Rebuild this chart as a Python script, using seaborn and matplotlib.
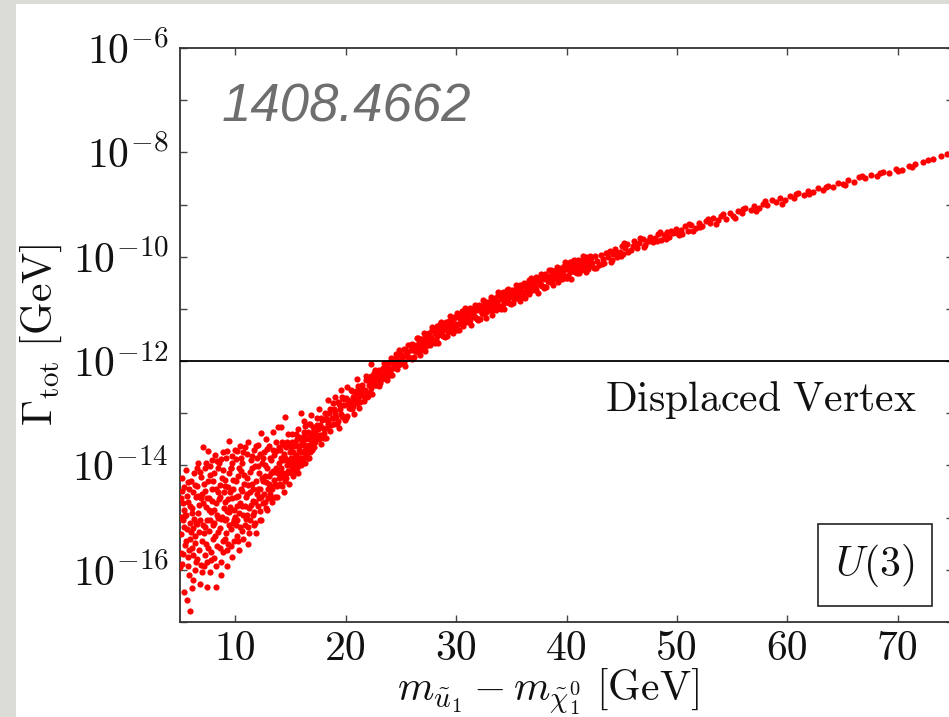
import numpy as np
import pandas as pd
import matplotlib
matplotlib.use("Agg")
import matplotlib.pyplot as plt
import seaborn as sns
from matplotlib.patches import Rectangle
from matplotlib.ticker import FixedLocator, NullFormatter, FixedFormatter

# ---------------- data ----------------
# mass splitting m_u1 - m_chi1 [GeV] and log10(Gamma_tot / GeV)
# region A: broad scatter at small splittings
x_low = [
    5.05, 5.10, 5.15, 5.22, 5.28, 5.33, 5.38, 5.45, 5.12, 5.40, 5.08,
    5.55, 5.60, 5.66, 5.70, 5.75, 5.82, 5.88, 5.95, 5.58, 5.90, 5.78,
    6.02, 6.08, 6.12, 6.18, 6.25, 6.30, 6.36, 6.42, 6.48, 6.15, 6.40,
    6.52, 6.58, 6.63, 6.70, 6.75, 6.82, 6.88, 6.95, 6.60, 6.90,
    7.03, 7.10, 7.15, 7.22, 7.28, 7.33, 7.40, 7.45, 7.18, 7.38,
    7.55, 7.60, 7.66, 7.72, 7.78, 7.85, 7.92, 7.98, 7.68, 7.88,
    8.02, 8.08, 8.15, 8.22, 8.30, 8.35, 8.42, 8.48, 8.12, 8.40,
    8.55, 8.60, 8.66, 8.72, 8.80, 8.86, 8.92, 8.98, 8.70, 8.90,
    9.03, 9.10, 9.15, 9.22, 9.30, 9.35, 9.42, 9.48, 9.18, 9.40,
    9.55, 9.60, 9.68, 9.75, 9.80, 9.86, 9.93, 9.98, 9.65, 9.90,
    10.03, 10.10, 10.15, 10.22, 10.30, 10.35, 10.42, 10.48, 10.20,
    10.55, 10.60, 10.68, 10.75, 10.82, 10.88, 10.95, 10.65,
    11.03, 11.10, 11.18, 11.25, 11.32, 11.40, 11.45, 11.15,
    11.55, 11.62, 11.70, 11.78, 11.85, 11.92, 11.98, 11.68,
    12.03, 12.10, 12.18, 12.25, 12.30, 12.38, 12.45, 12.20,
    12.55, 12.62, 12.70, 12.78, 12.85, 12.92, 12.98, 12.66,
    13.03, 13.10, 13.18, 13.25, 13.32, 13.40, 13.45, 13.15,
    13.55, 13.62, 13.70, 13.78, 13.85, 13.92, 13.98, 13.66,
    14.03, 14.10, 14.18, 14.25, 14.32, 14.40, 14.45, 14.15, 14.50,
    14.55, 14.62, 14.70, 14.78, 14.85, 14.92, 14.98, 14.68,
    15.03, 15.10, 15.18, 15.25, 15.32, 15.40, 15.45, 15.20,
    15.55, 15.62, 15.70, 15.78, 15.85, 15.92, 15.98, 15.68,
    16.03, 16.10, 16.18, 16.25, 16.32, 16.40, 16.45, 16.20,
    16.55, 16.62, 16.70, 16.78, 16.85, 16.92, 16.98, 16.75,
]
lg_low = [
    -14.62, -15.31, -15.88, -14.25, -15.05, -16.42, -14.85, -15.52, -15.68, -14.41, -14.98,
    -14.08, -15.22, -16.57, -14.70, -15.75, -14.45, -15.40, -16.79, -14.95, -15.10, -16.10,
    -14.30, -15.58, -14.82, -16.20, -15.02, -14.15, -15.35, -14.60, -15.85, -15.20, -16.00,
    -14.40, -15.12, -13.95, -15.62, -14.75, -16.28, -14.22, -15.45, -14.92, -15.90,
    -14.55, -13.65, -15.30, -14.05, -15.72, -14.80, -16.33, -15.05, -14.35, -15.50,
    -13.72, -14.62, -15.25, -14.18, -15.82, -14.90, -13.90, -15.40, -16.05, -14.45,
    -14.30, -15.10, -13.80, -14.72, -16.33, -15.55, -14.05, -15.00, -15.78, -14.50,
    -13.95, -15.20, -14.60, -15.85, -14.25, -13.75, -15.45, -14.82, -16.10, -14.08,
    -14.40, -15.05, -13.85, -15.62, -15.93, -14.65, -14.15, -13.53, -15.30, -14.90,
    -14.50, -15.22, -13.95, -15.75, -14.28, -14.85, -15.45, -13.70, -14.05, -15.05,
    -14.60, -13.88, -15.35, -14.20, -15.62, -14.92, -13.62, -14.45, -15.05,
    -14.10, -14.78, -15.40, -13.75, -14.35, -15.15, -14.60, -13.95,
    -14.25, -14.95, -13.55, -15.30, -14.50, -13.90, -14.75, -15.50,
    -14.05, -14.68, -13.70, -15.10, -14.30, -15.30, -13.85, -14.90,
    -14.45, -13.60, -14.15, -14.88, -13.38, -14.60, -13.95, -15.05,
    -14.30, -13.75, -14.70, -13.50, -14.05, -14.86, -14.45, -14.00,
    -13.62, -14.20, -14.55, -13.90, -14.70, -13.35, -14.10, -14.40,
    -13.80, -14.35, -14.05, -14.60, -13.26, -13.95, -14.25, -13.55,
    -13.70, -14.15, -13.27, -14.40, -13.90, -14.50, -13.60, -14.05, -13.07,
    -13.85, -14.25, -13.55, -14.10, -14.35, -13.75, -13.95, -14.00,
    -13.65, -14.05, -13.40, -14.20, -13.85, -13.55, -14.10, -13.75,
    -13.95, -13.50, -14.15, -13.70, -13.85, -13.00, -13.60, -13.30,
    -13.75, -13.45, -13.95, -13.60, -13.25, -13.80, -13.50, -13.15,
    -13.65, -13.35, -13.85, -13.50, -13.03, -13.70, -13.40, -13.20,
]
# region A, second set of points read from the same area
x_low_b = [
    5.02, 5.18, 5.25, 5.31, 5.36, 5.47, 5.52, 5.63, 5.68, 5.73, 5.85, 5.92, 5.98,
    6.05, 6.10, 6.20, 6.22, 6.33, 6.38, 6.45, 6.50, 6.55, 6.66, 6.72, 6.78, 6.85, 6.92, 6.98,
    7.05, 7.12, 7.20, 7.25, 7.30, 7.36, 7.42, 7.48, 7.52, 7.58, 7.63, 7.70, 7.75, 7.82, 7.90, 7.95,
    8.05, 8.10, 8.18, 8.25, 8.28, 8.33, 8.38, 8.45, 8.52, 8.58, 8.63, 8.68, 8.75, 8.82, 8.88, 8.95,
    9.05, 9.08, 9.12, 9.20, 9.25, 9.28, 9.33, 9.38, 9.45, 9.50, 9.58, 9.62, 9.70, 9.72, 9.78, 9.83, 9.95,
    10.05, 10.08, 10.12, 10.18, 10.25, 10.28, 10.33, 10.40, 10.45, 10.52, 10.58, 10.62, 10.72, 10.78, 10.85, 10.92, 10.98,
    11.05, 11.08, 11.12, 11.20, 11.28, 11.35, 11.38, 11.48, 11.52, 11.58, 11.65, 11.72, 11.75, 11.82, 11.88, 11.95,
    12.05, 12.08, 12.15, 12.22, 12.28, 12.35, 12.42, 12.48, 12.52, 12.58, 12.68, 12.75, 12.82, 12.88, 12.95,
    13.05, 13.12, 13.20, 13.28, 13.35, 13.42, 13.50, 13.58, 13.64, 13.72, 13.80, 13.88, 13.95,
    14.05, 14.12, 14.22, 14.28, 14.35, 14.42, 14.48, 14.58, 14.65, 14.72, 14.80, 14.88, 14.95,
    15.05, 15.12, 15.15, 15.22, 15.30, 15.38, 15.48, 15.52, 15.58, 15.65, 15.75, 15.82, 15.90, 15.95,
    16.05, 16.15, 16.22, 16.28, 16.35, 16.42, 16.50, 16.58, 16.65, 16.72, 16.80, 16.88, 16.95,
]
lg_low_b = [
    -15.95, -14.48, -15.70, -14.72, -15.18, -14.95, -15.45, -14.58, -15.92, -14.32, -15.62, -14.78, -15.28,
    -14.92, -16.35, -14.50, -15.72, -15.48, -14.38, -15.10, -14.05, -15.80, -14.58, -15.28, -14.12, -15.05, -14.62, -16.05,
    -15.15, -14.72, -15.92, -14.48, -15.18, -13.95, -14.62, -15.85, -14.30, -15.58, -14.85, -15.05, -14.02, -15.65, -14.68, -15.15,
    -14.85, -14.15, -15.35, -14.45, -15.92, -14.95, -13.92, -15.28, -14.65, -15.58, -14.38, -15.02, -13.88, -14.98, -15.65, -14.50,
    -15.40, -14.70, -14.28, -15.02, -13.72, -14.88, -15.50, -14.42, -15.15, -14.80, -14.05, -15.55, -14.62, -13.82, -15.10, -14.45, -14.98,
    -14.30, -15.15, -14.78, -13.72, -14.58, -15.45, -14.05, -15.18, -14.72, -13.85, -15.25, -14.48, -14.95, -14.18, -14.78, -13.65, -15.02,
    -14.55, -13.78, -15.18, -14.38, -14.82, -14.12, -15.05, -14.35, -13.82, -14.95, -14.45, -15.15, -14.02, -14.70, -13.62, -14.55,
    -14.78, -14.02, -14.62, -13.78, -14.45, -15.05, -14.25, -14.72, -13.85, -14.55, -14.20, -14.82, -14.32, -13.68, -14.62,
    -14.35, -13.85, -14.62, -14.15, -14.45, -13.70, -14.28, -14.60, -14.12, -13.72, -14.40, -14.15, -13.65,
    -14.35, -13.85, -14.22, -13.55, -14.15, -13.78, -14.30, -13.65, -14.15, -13.90, -13.40, -14.12, -13.60,
    -13.85, -13.55, -14.15, -13.95, -13.62, -14.02, -13.80, -13.40, -14.05, -13.62, -13.90, -13.45, -13.75, -14.00,
    -13.55, -13.85, -13.35, -13.70, -13.95, -13.40, -13.62, -13.85, -13.20, -13.60, -13.75, -13.45, -13.55,
]

# region B: dense band
x_mid = [
    17.05, 17.15, 17.25, 17.35, 17.45, 17.55, 17.65, 17.75, 17.85, 17.95,
    18.02, 18.12, 18.22, 18.32, 18.42, 18.52, 18.62, 18.72, 18.82, 18.92,
    19.08, 19.18, 19.28, 19.38, 19.48, 19.58, 19.68, 19.78, 19.88, 19.98,
    20.05, 20.15, 20.25, 20.35, 20.45, 20.55, 20.65, 20.75, 20.85, 20.95,
    21.02, 21.12, 21.22, 21.32, 21.42, 21.52, 21.62, 21.72, 21.82, 21.92,
    22.08, 22.18, 22.28, 22.38, 22.48, 22.58, 22.68, 22.78, 22.88, 22.98,
    23.05, 23.15, 23.25, 23.35, 23.45, 23.55, 23.65, 23.75, 23.85, 23.95,
    24.02, 24.12, 24.22, 24.32, 24.42, 24.52, 24.62, 24.72, 24.82, 24.92,
    25.08, 25.18, 25.28, 25.38, 25.48, 25.58, 25.68, 25.78, 25.88, 25.98,
    26.05, 26.15, 26.25, 26.35, 26.45, 26.55, 26.65, 26.75, 26.85, 26.95,
    27.02, 27.12, 27.22, 27.32, 27.42, 27.52, 27.62, 27.72, 27.82, 27.92,
    28.08, 28.18, 28.28, 28.38, 28.48, 28.58, 28.68, 28.78, 28.88, 28.98,
    29.05, 29.15, 29.25, 29.35, 29.45, 29.55, 29.65, 29.75, 29.85, 29.95,
    30.02, 30.12, 30.22, 30.32, 30.42, 30.52, 30.62, 30.72, 30.82, 30.92,
    31.08, 31.18, 31.28, 31.38, 31.48, 31.58, 31.68, 31.78, 31.88, 31.98,
    32.05, 32.15, 32.25, 32.35, 32.45, 32.55, 32.65, 32.75, 32.85, 32.95,
    33.02, 33.12, 33.22, 33.32, 33.42, 33.52, 33.62, 33.72, 33.82, 33.92,
    34.08, 34.18, 34.28, 34.38, 34.48, 34.58, 34.68, 34.78, 34.88, 34.98,
    35.05, 35.15, 35.25, 35.35, 35.45, 35.55, 35.65, 35.75, 35.85, 35.95,
    36.02, 36.12, 36.22, 36.32, 36.42, 36.52, 36.62, 36.72, 36.82, 36.92,
    37.08, 37.18, 37.28, 37.38, 37.48, 37.58, 37.68, 37.78, 37.88, 37.98,
    38.05, 38.15, 38.25, 38.35, 38.45, 38.55, 38.65, 38.75, 38.85, 38.95,
    39.02, 39.12, 39.22, 39.32, 39.42, 39.52, 39.62, 39.72, 39.82, 39.92,
    40.08, 40.18, 40.28, 40.38, 40.48, 40.58, 40.68, 40.78, 40.88, 40.98,
    41.05, 41.15, 41.25, 41.35, 41.45, 41.55, 41.65, 41.75, 41.85, 41.95,
    17.6, 18.4, 19.0, 19.6, 20.1, 21.0, 22.3,
]
lg_mid = [
    -13.26, -13.65, -13.37, -13.46, -13.09, -13.49, -13.23, -13.59, -13.13, -13.29,
    -13.37, -12.99, -13.48, -13.12, -13.20, -12.99, -13.34, -13.10, -12.81, -13.21,
    -12.99, -13.20, -12.79, -13.29, -12.85, -13.01, -12.69, -13.08, -12.84, -13.12,
    -12.70, -13.06, -12.81, -12.89, -12.55, -12.92, -12.68, -13.02, -12.59, -12.74,
    -12.80, -12.47, -12.89, -12.57, -12.65, -12.46, -12.76, -12.55, -12.29, -12.64,
    -12.45, -12.59, -12.29, -12.64, -12.31, -12.42, -12.18, -12.46, -12.28, -12.48,
    -12.17, -12.42, -12.24, -12.29, -12.04, -12.30, -12.12, -12.36, -12.05, -12.15,
    -12.20, -11.94, -12.26, -12.02, -12.07, -11.92, -12.15, -11.99, -11.79, -12.05,
    -11.91, -12.04, -11.77, -12.09, -11.80, -11.90, -11.69, -11.94, -11.78, -11.96,
    -11.67, -11.93, -11.74, -11.80, -11.55, -11.82, -11.64, -11.88, -11.57, -11.68,
    -11.73, -11.47, -11.80, -11.55, -11.61, -11.46, -11.70, -11.53, -11.34, -11.60,
    -11.46, -11.60, -11.33, -11.65, -11.36, -11.47, -11.26, -11.52, -11.35, -11.54,
    -11.25, -11.51, -11.33, -11.38, -11.14, -11.41, -11.24, -11.47, -11.17, -11.28,
    -11.33, -11.08, -11.41, -11.17, -11.23, -11.09, -11.33, -11.17, -10.98, -11.25,
    -11.11, -11.25, -10.98, -11.31, -11.02, -11.13, -10.92, -11.18, -11.02, -11.21,
    -10.93, -11.19, -11.01, -11.07, -10.83, -11.10, -10.93, -11.17, -10.87, -10.98,
    -11.03, -10.78, -11.11, -10.87, -10.93, -10.79, -11.03, -10.87, -10.68, -10.95,
    -10.81, -10.95, -10.68, -11.01, -10.72, -10.83, -10.62, -10.88, -10.72, -10.91,
    -10.64, -10.88, -10.71, -10.77, -10.55, -10.79, -10.64, -10.85, -10.58, -10.68,
    -10.72, -10.50, -10.79, -10.57, -10.63, -10.50, -10.72, -10.57, -10.40, -10.64,
    -10.51, -10.64, -10.39, -10.69, -10.43, -10.53, -10.34, -10.57, -10.42, -10.59,
    -10.34, -10.58, -10.41, -10.47, -10.25, -10.49, -10.34, -10.55, -10.28, -10.38,
    -10.42, -10.20, -10.49, -10.27, -10.34, -10.21, -10.43, -10.28, -10.11, -10.36,
    -10.23, -10.36, -10.11, -10.42, -10.16, -10.26, -10.07, -10.30, -10.15, -10.32,
    -10.07, -10.31, -10.14, -10.20, -9.98, -10.23, -10.08, -10.29, -10.02, -10.12,
    -12.92, -12.75, -12.69, -12.55, -12.50, -12.35, -12.05,
]
# region B, second set of points filling the band
x_mid_b = [
    17.00, 17.13, 17.27, 17.40, 17.53, 17.67, 17.80, 17.93,
    18.06, 18.19, 18.31, 18.44, 18.57, 18.70, 18.83, 18.96,
    19.00, 19.13, 19.27, 19.40, 19.53, 19.67, 19.80, 19.93,
    20.06, 20.19, 20.31, 20.44, 20.57, 20.70, 20.83, 20.96,
    21.00, 21.13, 21.27, 21.40, 21.53, 21.67, 21.80, 21.93,
    22.06, 22.19, 22.31, 22.44, 22.57, 22.70, 22.83, 22.96,
    23.00, 23.13, 23.27, 23.40, 23.53, 23.67, 23.80, 23.93,
    24.06, 24.19, 24.31, 24.44, 24.57, 24.70, 24.83, 24.96,
    25.00, 25.13, 25.27, 25.40, 25.53, 25.67, 25.80, 25.93,
    26.06, 26.19, 26.31, 26.44, 26.57, 26.70, 26.83, 26.96,
    27.00, 27.13, 27.27, 27.40, 27.53, 27.67, 27.80, 27.93,
    28.06, 28.19, 28.31, 28.44, 28.57, 28.70, 28.83, 28.96,
    29.00, 29.13, 29.27, 29.40, 29.53, 29.67, 29.80, 29.93,
    30.06, 30.19, 30.31, 30.44, 30.57, 30.70, 30.83, 30.96,
    31.00, 31.13, 31.27, 31.40, 31.53, 31.67, 31.80, 31.93,
    32.06, 32.19, 32.31, 32.44, 32.57, 32.70, 32.83, 32.96,
    33.00, 33.13, 33.27, 33.40, 33.53, 33.67, 33.80, 33.93,
    34.06, 34.19, 34.31, 34.44, 34.57, 34.70, 34.83, 34.96,
    35.00, 35.13, 35.27, 35.40, 35.53, 35.67, 35.80, 35.93,
    36.06, 36.19, 36.31, 36.44, 36.57, 36.70, 36.83, 36.96,
    37.00, 37.13, 37.27, 37.40, 37.53, 37.67, 37.80, 37.93,
    38.06, 38.19, 38.31, 38.44, 38.57, 38.70, 38.83, 38.96,
    39.00, 39.13, 39.27, 39.40, 39.53, 39.67, 39.80, 39.93,
    40.06, 40.19, 40.31, 40.44, 40.57, 40.70, 40.83, 40.96,
    41.00, 41.13, 41.27, 41.40, 41.53, 41.67, 41.80, 41.93,
]
lg_mid_b = [
    -13.35, -13.47, -13.55, -13.22, -13.30, -13.42, -13.10, -13.46,
    -13.48, -13.09, -13.28, -13.15, -12.92, -13.23, -13.10, -12.92,
    -12.95, -13.07, -13.15, -12.83, -12.92, -13.05, -12.72, -13.09,
    -13.09, -12.74, -12.90, -12.79, -12.57, -12.86, -12.74, -12.58,
    -12.61, -12.71, -12.78, -12.49, -12.55, -12.66, -12.37, -12.68,
    -12.67, -12.37, -12.51, -12.40, -12.22, -12.45, -12.34, -12.21,
    -12.23, -12.31, -12.35, -12.13, -12.17, -12.25, -12.03, -12.26,
    -12.27, -12.01, -12.13, -12.04, -11.87, -12.08, -11.99, -11.87,
    -11.88, -11.96, -12.01, -11.79, -11.84, -11.92, -11.70, -11.94,
    -11.95, -11.69, -11.81, -11.72, -11.56, -11.78, -11.69, -11.57,
    -11.58, -11.66, -11.71, -11.49, -11.54, -11.62, -11.40, -11.64,
    -11.65, -11.40, -11.52, -11.44, -11.28, -11.50, -11.41, -11.29,
    -11.31, -11.39, -11.44, -11.23, -11.28, -11.36, -11.15, -11.39,
    -11.40, -11.15, -11.28, -11.20, -11.04, -11.26, -11.18, -11.06,
    -11.08, -11.17, -11.22, -11.01, -11.07, -11.15, -10.94, -11.19,
    -11.20, -10.95, -11.08, -11.00, -10.84, -11.06, -10.98, -10.86,
    -10.88, -10.97, -11.02, -10.81, -10.87, -10.95, -10.74, -10.99,
    -11.00, -10.75, -10.88, -10.80, -10.64, -10.86, -10.78, -10.66,
    -10.69, -10.77, -10.81, -10.62, -10.67, -10.74, -10.55, -10.78,
    -10.78, -10.56, -10.67, -10.60, -10.45, -10.65, -10.58, -10.47,
    -10.49, -10.57, -10.61, -10.42, -10.47, -10.54, -10.35, -10.58,
    -10.58, -10.36, -10.47, -10.40, -10.25, -10.45, -10.38, -10.27,
    -10.29, -10.37, -10.42, -10.23, -10.28, -10.36, -10.17, -10.40,
    -10.40, -10.18, -10.29, -10.22, -10.08, -10.28, -10.21, -10.10,
    -10.12, -10.20, -10.25, -10.06, -10.11, -10.19, -10.00, -10.23,
]

# region C: thin tail at large splittings
x_high = [
    42.0, 42.2, 42.3, 42.5, 42.6, 42.8, 42.9, 43.1, 43.3, 43.4,
    43.6, 43.8, 43.9, 44.1, 44.2, 44.4, 44.6, 44.8, 45.0, 45.1,
    45.3, 45.5, 45.8, 46.0, 46.1, 46.4, 46.6, 46.9, 47.1, 47.3,
    47.6, 47.8, 48.0, 48.3, 48.6, 48.8, 49.1, 49.3, 49.6, 49.9,
    50.2, 50.4, 50.7, 51.0, 51.3, 51.7, 52.0, 52.3, 52.6, 53.0,
    53.3, 53.7, 54.0, 54.4, 54.8, 55.1, 55.5, 55.9, 56.2, 56.7,
    57.0, 57.4, 57.8, 58.2, 58.6, 59.0, 59.3, 59.8, 60.2, 60.6,
    61.0, 61.5, 61.9, 62.3, 62.8, 63.2, 63.7, 64.1, 64.6, 65.0,
    65.5, 66.0, 66.5, 67.0, 67.6, 68.1, 68.7, 69.2, 69.8, 70.4,
    71.0, 71.6, 72.3, 72.7, 73.9, 74.5, 74.9,
]
lg_high = [
    -10.18, -10.03, -10.12, -10.21, -9.99, -10.08, -10.15, -9.97, -10.05, -10.12,
    -9.93, -10.01, -9.89, -10.06, -9.94, -9.86, -10.00, -9.91, -9.80, -9.95,
    -9.84, -9.76, -9.88, -9.79, -9.70, -9.83, -9.73, -9.66, -9.78, -9.69,
    -9.62, -9.72, -9.64, -9.57, -9.68, -9.59, -9.53, -9.63, -9.55, -9.47,
    -9.58, -9.49, -9.42, -9.50, -9.40, -9.44, -9.35, -9.41, -9.31, -9.36,
    -9.26, -9.30, -9.22, -9.27, -9.16, -9.22, -9.12, -9.17, -9.07, -9.10,
    -9.03, -9.06, -8.98, -9.01, -8.92, -8.96, -8.88, -8.92, -8.84, -8.87,
    -8.78, -8.82, -8.74, -8.76, -8.69, -8.72, -8.64, -8.66, -8.58, -8.61,
    -8.53, -8.56, -8.48, -8.50, -8.43, -8.45, -8.37, -8.39, -8.31, -8.33,
    -8.26, -8.22, -8.18, -8.14, -8.07, -8.03, -8.02,
]
x_high_b = [
    42.1, 42.7, 43.2, 43.7, 44.0, 44.5, 44.9, 45.2, 45.6, 46.2,
    46.7, 47.0, 47.5, 48.2, 48.5, 49.0, 49.5, 50.0, 50.5, 51.1,
    51.5, 52.1, 52.8, 53.5, 54.2, 55.3, 56.0, 57.2, 58.0, 59.5,
    60.8, 62.0, 63.5, 65.2, 66.8, 68.4, 70.0, 71.3, 73.2,
]
lg_high_b = [
    -9.98, -10.22, -10.14, -9.92, -10.10, -9.93, -9.98, -9.74, -9.90, -9.80,
    -9.64, -9.82, -9.70, -9.70, -9.52, -9.66, -9.50, -9.55, -9.56, -9.38,
    -9.51, -9.43, -9.28, -9.38, -9.18, -9.25, -9.09, -9.12, -8.93, -8.99,
    -8.80, -8.79, -8.66, -8.62, -8.46, -8.40, -8.35, -8.28, -8.12,
]

x_ticks = [10, 20, 30, 40, 50, 60, 70]
y_major = [1e-16, 1e-14, 1e-12, 1e-10, 1e-8, 1e-6]
y_major_labels = [r"$10^{-16}$", r"$10^{-14}$", r"$10^{-12}$",
                  r"$10^{-10}$", r"$10^{-8}$", r"$10^{-6}$"]
y_minor = [1e-17, 1e-15, 1e-13, 1e-11, 1e-9, 1e-7]
threshold = 1e-12

# ---------------- build table ----------------
df = pd.DataFrame({
    "dm": x_low + x_low_b + x_mid + x_mid_b + x_high + x_high_b,
    "lg": lg_low + lg_low_b + lg_mid + lg_mid_b + lg_high + lg_high_b,
})
df["gamma"] = 10.0 ** df["lg"]

# ---------------- style ----------------
sns.set_style("ticks")
plt.rcParams["mathtext.fontset"] = "cm"
plt.rcParams["font.family"] = ["cmr10", "DejaVu Serif"]
plt.rcParams["axes.unicode_minus"] = False
plt.rcParams["axes.formatter.use_mathtext"] = True

W, H = 949, 717
fig = plt.figure(figsize=(W / 100, H / 100), dpi=100)
fig.patch.set_facecolor("#dcdcd7")
fig.add_artist(Rectangle((16 / W, 0), 1 - 16 / W, (H - 4) / H,
                         transform=fig.transFigure, fc="white", ec="none", zorder=-5))

ax = fig.add_axes([180 / W, (H - 622) / H, 773 / W, 574 / H])
ax.set_facecolor("white")

sns.scatterplot(data=df, x="dm", y="gamma", ax=ax, color="#ff0000", s=20,
                linewidth=0, legend=False, zorder=3)

ax.set_yscale("log")
ax.set_xlim(5, 75)
ax.set_ylim(1e-17, 1e-6)
ax.axhline(threshold, color="black", lw=1.3, zorder=4)

ax.set_xticks(x_ticks)
ax.set_xticklabels([str(t) for t in x_ticks])
ax.yaxis.set_major_locator(FixedLocator(y_major))
ax.yaxis.set_major_formatter(FixedFormatter(y_major_labels))
ax.yaxis.set_minor_locator(FixedLocator(y_minor))
ax.yaxis.set_minor_formatter(NullFormatter())
ax.xaxis.set_minor_locator(FixedLocator([]))

ax.tick_params(which="both", direction="in", top=True, right=True,
               length=5, width=1.0, color="#444444", labelsize=30, labelcolor="#111111")
ax.tick_params(axis="x", pad=6)
ax.tick_params(axis="y", pad=8)
for sp in ax.spines.values():
    sp.set_color("#333333")
    sp.set_linewidth(1.3)

ax.set_xlabel(r"$m_{\tilde{u}_1} - m_{\tilde{\chi}_1^0}\ [\mathrm{GeV}]$", fontsize=30, color="#111111")
ax.set_ylabel(r"$\Gamma_{\mathrm{tot}}\ [\mathrm{GeV}]$", fontsize=30, color="#111111")
ax.xaxis.set_label_coords(0.476, -0.078)
ax.yaxis.set_label_coords(-0.150, 0.5)

ax.text(0.953, 0.387, r"$\mathrm{Displaced\ Vertex}$", transform=ax.transAxes,
        ha="right", va="center", fontsize=30, color="#111111", zorder=5)
ax.text(0.899, 0.099, r"$U(3)$", transform=ax.transAxes, ha="center", va="center",
        fontsize=30, color="#111111", zorder=5,
        bbox=dict(boxstyle="square,pad=0.42", fc="white", ec="#222222", lw=1.2))
ax.text(0.054, 0.897, "1408.4662", transform=ax.transAxes, ha="left", va="center",
        fontsize=38, color="#6e6e6e", style="italic",
        family=["Liberation Sans", "DejaVu Sans"], zorder=5)

fig.savefig("out.png", dpi=100, facecolor=fig.get_facecolor())
